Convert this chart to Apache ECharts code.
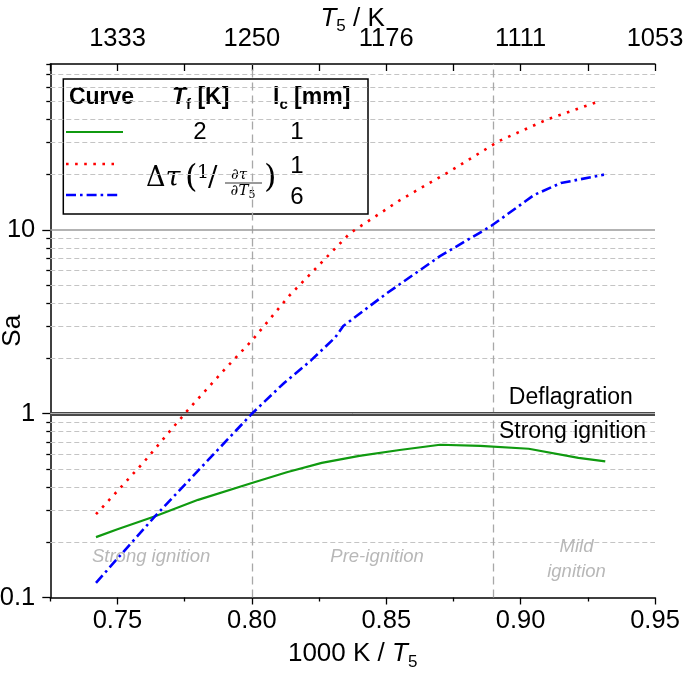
<!DOCTYPE html>
<html><head><meta charset="utf-8">
<script src="https://cdn.jsdelivr.net/npm/echarts@6/dist/echarts.min.js"></script>
<style>html,body{margin:0;padding:0;background:#fff}#c{width:685px;height:677px}</style>
</head><body><div id="c"></div>
<script>
// ---- data ----
const greenX  = [0.742, 0.750, 0.764, 0.780, 0.800, 0.813, 0.826, 0.840, 0.855, 0.870, 0.885, 0.903, 0.9215, 0.9315];
const greenSa = [0.213, 0.235, 0.277, 0.340, 0.420, 0.480, 0.540, 0.590, 0.635, 0.678, 0.668, 0.645, 0.575, 0.550];
const redX    = [0.742, 0.750, 0.760, 0.770, 0.777, 0.790, 0.800, 0.814, 0.8365, 0.855, 0.874, 0.892, 0.910, 0.929];
const redSa   = [0.284, 0.380, 0.550, 0.820, 1.080, 1.750, 2.500, 4.400, 9.600, 14.5, 21.0, 30.5, 40.0, 50.0];
const blueX   = [0.742, 0.750, 0.764, 0.780, 0.800, 0.810, 0.812, 0.822, 0.831, 0.834, 0.850, 0.870, 0.889, 0.905, 0.915, 0.931];
const blueSa  = [0.120, 0.163, 0.277, 0.490, 1.000, 1.380, 1.470, 1.950, 2.600, 3.000, 4.500, 7.200, 10.50, 15.50, 18.0, 20.0];
const bottomTicks   = [0.75, 0.80, 0.85, 0.90, 0.95];
const bottomMinor   = [0.725, 0.775, 0.825, 0.875, 0.925];
const topTickLabels = ['1333', '1250', '1176', '1111', '1053'];
const yMajor = [0.1, 1, 10];
const yMinor = [0.2,0.3,0.4,0.5,0.6,0.7,0.8,0.9, 2,3,4,5,6,7,8,9, 20,30,40,50,60,70,80];
const regionBounds = [0.80, 0.889];
const annotations = [
  {text: 'Deflagration',    x: 0.9187, y: 1.23,  kind: 'dark'},
  {text: 'Strong ignition', x: 0.9193, y: 0.80,  kind: 'dark'},
  {text: 'Strong ignition', x: 0.7625, y: 0.166, kind: 'light'},
  {text: 'Pre-ignition',    x: 0.8466, y: 0.166, kind: 'light'},
  {text: 'Mild\nignition',  x: 0.9208, y: 0.161, kind: 'light'}
];

const FONT = '"Liberation Sans", Arial, sans-serif';
const toPairs = (xs, ys) => xs.map((x, i) => [x, ys[i]]);
const fmtY = v => String(Math.round(v * 10) / 10);

const chart = echarts.init(document.getElementById('c'), null, {renderer: 'canvas'});
const gridLines = yMinor.filter(v => v !== 80).map(v => ({yAxis: v}));
const nameRich = {
  i: {fontFamily: FONT, fontSize: 26, fontStyle: 'italic', color: '#000'},
  s: {fontFamily: FONT, fontSize: 17, color: '#000', padding: [16, 0, 0, 0]}
};

chart.setOption({
  animation: false,
  backgroundColor: '#fff',
  grid: {left: 50.3, right: 30, top: 64, bottom: 79.5, containLabel: false, outerBoundsMode: 'none'},
  xAxis: [
    { type: 'value', position: 'bottom', min: 0.725, max: 0.95, interval: 0.025,
      name: '1000 K / {i|T}{s|5}', nameLocation: 'middle', nameGap: 40, nameMoveOverlap: false,
      nameTextStyle: {fontFamily: FONT, fontSize: 26, color: '#000', rich: nameRich},
      axisLine: {show: true, lineStyle: {color: '#000', width: 1.5}},
      axisTick: {show: true, inside: false, length: 7, customValues: bottomTicks, lineStyle: {color: '#000', width: 1.3}},
      axisLabel: {show: true, customValues: bottomTicks, margin: 10, fontFamily: FONT, fontSize: 25.5, color: '#000',
        formatter: v => v.toFixed(2)},
      splitLine: {show: false}
    },
    { type: 'value', position: 'bottom', min: 0.725, max: 0.95, interval: 0.025,
      axisLine: {show: false},
      axisTick: {show: true, inside: false, length: 4, customValues: bottomMinor, lineStyle: {color: '#000', width: 1.3}},
      axisLabel: {show: false}, splitLine: {show: false}
    },
    { type: 'value', position: 'top', min: 0.725, max: 0.95, interval: 0.025,
      name: '{i|T}{s|5} / K', nameLocation: 'middle', nameGap: 29, nameMoveOverlap: false,
      nameTextStyle: {fontFamily: FONT, fontSize: 26, color: '#000', rich: nameRich},
      axisLine: {show: true, lineStyle: {color: '#000', width: 1.5}},
      axisTick: {show: true, inside: true, length: 7, lineStyle: {color: '#000', width: 1.3}},
      axisLabel: {show: true, customValues: bottomTicks, margin: 12, fontFamily: FONT, fontSize: 25.5, color: '#000',
        formatter: v => topTickLabels[Math.round((v - 0.75) / 0.05)]},
      splitLine: {show: false}
    }
  ],
  yAxis: [
    { type: 'log', logBase: 10, min: 0.1, max: 80, interval: 1, position: 'left',
      name: 'Sa', nameLocation: 'middle', nameGap: 24, nameRotate: 90, nameMoveOverlap: false,
      nameTextStyle: {fontFamily: FONT, fontSize: 26, color: '#000'},
      axisLine: {show: true, onZero: false, lineStyle: {color: '#000', width: 1.5}},
      axisTick: {show: true, inside: false, length: 8, customValues: yMajor, lineStyle: {color: '#000', width: 1.3}},
      axisLabel: {show: true, customValues: yMajor, margin: 15, fontFamily: FONT, fontSize: 25.5, color: '#000', formatter: fmtY},
      splitLine: {show: false}
    },
    { type: 'log', logBase: 10, min: 0.1, max: 80, interval: 1, position: 'left', offset: 0,
      axisLine: {show: false, onZero: false},
      axisTick: {show: true, inside: false, length: 4, customValues: yMinor, lineStyle: {color: '#000', width: 1.3}},
      axisLabel: {show: false}, splitLine: {show: false}
    }
  ],
  series: [
    { name: 'grid', type: 'line', data: [], z: 1, silent: true,
      markLine: { silent: true, symbol: ['none', 'none'], label: {show: false}, animation: false,
        data: [
          ...gridLines.map(d => Object.assign({}, d, {lineStyle: {color: '#c4c4c4', width: 1, type: [5, 3]}})),
          ...regionBounds.map(v => ({xAxis: v, lineStyle: {color: '#a8a8a8', width: 1.3, type: [8, 5]}})),
          {yAxis: 10, lineStyle: {color: '#9a9a9a', width: 1.6, type: 'solid'}},
          {yAxis: 1, lineStyle: {color: '#4a4a4a', width: 4, type: 'solid'}},
          {yAxis: 1, lineStyle: {color: '#b0b0b0', width: 1, type: 'solid'}}
        ]
      }
    },
    { name: 'green', type: 'line', data: toPairs(greenX, greenSa), z: 5, showSymbol: false, smooth: false,
      lineStyle: {color: '#109a10', width: 2.2} },
    { name: 'red', type: 'line', data: toPairs(redX, redSa), z: 5, showSymbol: false, smooth: false,
      lineStyle: {color: '#ff0000', width: 2.6, type: [2.6, 6.5]} },
    { name: 'blue', type: 'line', data: toPairs(blueX, blueSa), z: 5, showSymbol: false, smooth: false,
      lineStyle: {color: '#0000ff', width: 2.6, type: [10, 4, 2.6, 4]} },
    { name: 'notes', type: 'scatter', z: 6, silent: true, symbolSize: 1, itemStyle: {color: '#fff', opacity: 1},
      data: annotations.map(a => ({
        value: [a.x, a.y],
        label: { show: true, position: 'inside', formatter: a.text, align: 'center', verticalAlign: 'middle',
          fontFamily: FONT, opacity: 1,
          fontSize: a.kind === 'dark' ? 23 : 18.5,
          fontStyle: a.kind === 'dark' ? 'normal' : 'italic',
          color: a.kind === 'dark' ? '#000' : '#b8b8b8',
          textBorderWidth: 0,
          lineHeight: 25 }
      }))
    }
  ],
  graphic: [
    { type: 'group', z: 100, children: [
      { type: 'rect', shape: {x: 63.3, y: 79, width: 304.7, height: 135}, style: {fill: '#fff', stroke: '#000', lineWidth: 1.5} },
      { type: 'text', x: 101.5, y: 98, style: {text: 'Curve', font: 'bold 23px ' + FONT, fill: '#000', align: 'center', verticalAlign: 'middle'} },
      { type: 'text', x: 172, y: 98, style: {text: '{i|T}{s|f}{b| [K]}', fill: '#000', align: 'left', verticalAlign: 'middle',
          rich: {i: {font: 'italic bold 23px ' + FONT, fill: '#000'}, s: {font: 'bold 15px ' + FONT, fill: '#000', padding: [14, 0, 0, 0]}, b: {font: 'bold 23px ' + FONT, fill: '#000'}}} },
      { type: 'text', x: 273, y: 98, style: {text: '{b|l}{s|c}{b| [mm]}', fill: '#000', align: 'left', verticalAlign: 'middle',
          rich: {b: {font: 'bold 23px ' + FONT, fill: '#000'}, s: {font: 'bold 15px ' + FONT, fill: '#000', padding: [14, 0, 0, 0]}}} },
      { type: 'line', shape: {x1: 66, y1: 132, x2: 123, y2: 132}, style: {stroke: '#109a10', lineWidth: 2.2} },
      { type: 'line', shape: {x1: 66, y1: 164, x2: 114, y2: 164}, style: {stroke: '#ff0000', lineWidth: 2.6, lineDash: [2.6, 6.5]} },
      { type: 'line', shape: {x1: 66, y1: 195, x2: 121, y2: 195}, style: {stroke: '#0000ff', lineWidth: 2.6, lineDash: [10, 4, 2.6, 4]} },
      { type: 'text', x: 200, y: 132, style: {text: '2', font: '24px ' + FONT, fill: '#000', align: 'center', verticalAlign: 'middle'} },
      { type: 'text', x: 297, y: 132, style: {text: '1', font: '24px ' + FONT, fill: '#000', align: 'center', verticalAlign: 'middle'} },
      { type: 'text', x: 297, y: 166, style: {text: '1', font: '24px ' + FONT, fill: '#000', align: 'center', verticalAlign: 'middle'} },
      { type: 'text', x: 297, y: 197, style: {text: '6', font: '24px ' + FONT, fill: '#000', align: 'center', verticalAlign: 'middle'} },
      // formula  Δτ(1/ ∂τ/∂T5 )
      { type: 'text', x: 146, y: 179, style: {text: '{u|Δ}{t|τ}', align: 'left', verticalAlign: 'middle',
          rich: {u: {font: '27px "DejaVu Serif", serif', fill: '#000'}, t: {font: 'italic 27px "DejaVu Serif", serif', fill: '#000'}}} },
      { type: 'text', x: 185, y: 179, style: {text: '(', font: '32px "DejaVu Serif", serif', fill: '#000', align: 'left', verticalAlign: 'middle'} },
      { type: 'text', x: 197, y: 173, style: {text: '1', font: '19px "DejaVu Serif", serif', fill: '#000', align: 'left', verticalAlign: 'middle'} },
      { type: 'text', x: 208, y: 179, style: {text: '/', font: '28px "DejaVu Serif", serif', fill: '#000', align: 'left', verticalAlign: 'middle'} },
      { type: 'text', x: 239, y: 175, style: {text: '{u|∂}{t|τ}', align: 'center', verticalAlign: 'middle',
          rich: {u: {font: '15px "DejaVu Serif", serif', fill: '#000'}, t: {font: 'italic 15px "DejaVu Serif", serif', fill: '#000'}}} },
      { type: 'line', shape: {x1: 225, y1: 183, x2: 262, y2: 183}, style: {stroke: '#000', lineWidth: 0.8} },
      { type: 'text', x: 243, y: 191, style: {text: '{u|∂}{t|T}{s|5}', align: 'center', verticalAlign: 'middle',
          rich: {u: {font: '15px "DejaVu Serif", serif', fill: '#000'}, t: {font: 'italic 15px "DejaVu Serif", serif', fill: '#000'},
                 s: {font: '11px "DejaVu Serif", serif', fill: '#000', padding: [8, 0, 0, 0]}}} },
      { type: 'text', x: 264, y: 179, style: {text: ')', font: '32px "DejaVu Serif", serif', fill: '#000', align: 'left', verticalAlign: 'middle'} }
    ]}
  ]
});
</script></body></html>
